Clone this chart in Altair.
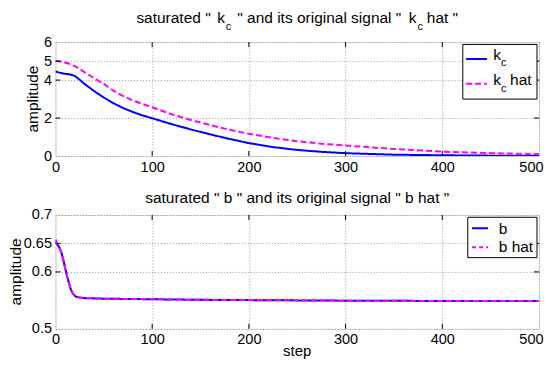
import altair as alt
import pandas as pd

F = "Liberation Sans"

# ---------- data ----------
steps_kc = [0, 5, 10, 15, 20, 25, 30, 40, 50, 60, 70, 80, 90, 100, 120, 140, 160, 180, 200, 225, 250, 275, 300, 350, 400, 450, 500]
kc = [4.45, 4.38, 4.33, 4.3, 4.22, 4.02, 3.8, 3.42, 3.08, 2.78, 2.53, 2.32, 2.14, 1.99, 1.68, 1.4, 1.14, 0.9, 0.68, 0.47, 0.32, 0.22, 0.15, 0.07, 0.04, 0.02, 0.01]
kc_hat = [5.0, 4.98, 4.93, 4.85, 4.73, 4.58, 4.42, 4.1, 3.8, 3.44, 3.16, 2.93, 2.74, 2.57, 2.2, 1.9, 1.63, 1.38, 1.17, 0.95, 0.78, 0.65, 0.55, 0.37, 0.23, 0.15, 0.1]

steps_b = [0, 2, 4, 6, 8, 10, 12, 14, 16, 18, 20, 22, 25, 30, 40, 50, 75, 100, 150, 200, 250, 300, 400, 500]
b = [0.655, 0.648, 0.643, 0.635, 0.622, 0.607, 0.593, 0.58, 0.569, 0.562, 0.558, 0.556, 0.555, 0.554, 0.5535, 0.553, 0.5525, 0.552, 0.551, 0.5505, 0.55, 0.5495, 0.549, 0.549]
b_hat = [0.657, 0.648, 0.643, 0.635, 0.622, 0.607, 0.593, 0.58, 0.569, 0.562, 0.558, 0.556, 0.555, 0.554, 0.5535, 0.553, 0.5525, 0.552, 0.551, 0.5505, 0.55, 0.5495, 0.549, 0.549]

x_ticks = [0, 100, 200, 300, 400, 500]
y_ticks_top = [0, 2, 4, 5, 6]
y_ticks_bot = [0.5, 0.6, 0.65, 0.7]

series_top = ["k_c", "k_c hat"]
series_bot = ["b", "b hat"]

df_top = pd.concat([
    pd.DataFrame({"step": steps_kc, "value": kc, "series": series_top[0]}),
    pd.DataFrame({"step": steps_kc, "value": kc_hat, "series": series_top[1]}),
])
df_bot = pd.concat([
    pd.DataFrame({"step": steps_b, "value": b, "series": series_bot[0]}),
    pd.DataFrame({"step": steps_b, "value": b_hat, "series": series_bot[1]}),
])

W, H = 484, 114
BLUE, MAG = "#0000ff", "#ff00ff"
one = pd.DataFrame({"a": [0]})
FS = 14.5   # tick labels
TS = 15.5   # titles / legend
SS = 11     # subscripts


def panel(df, domain_series, ydom, yticks, yfmt):
    xs = alt.Scale(domain=[0, 500], nice=False, zero=False)
    ys = alt.Scale(domain=ydom, nice=False, zero=False)
    common = dict(grid=True, gridDash=[1, 2], gridColor="#9a9a9a", gridWidth=1, tickSize=0,
                  domain=False, labelFont=F, labelFontSize=FS, labelColor="black",
                  labelOverlap=False, title=None)
    xaxis = alt.Axis(values=x_ticks, labelPadding=4, format="d", labelFlush=True,
                     labelFlushOffset=4, **common)
    yaxis = alt.Axis(values=yticks, labelPadding=4, format=yfmt, labelFlush=False, **common)
    lines = alt.Chart(df).mark_line(strokeWidth=2, clip=True).encode(
        x=alt.X("step:Q", scale=xs, axis=xaxis),
        y=alt.Y("value:Q", scale=ys, axis=yaxis),
        color=alt.Color("series:N", scale=alt.Scale(domain=domain_series, range=[BLUE, MAG]), legend=None),
        strokeDash=alt.StrokeDash("series:N", scale=alt.Scale(domain=domain_series, range=[[1, 0], [6, 3]]), legend=None),
    )
    xt = pd.DataFrame({"step": x_ticks[1:-1]})
    yt = pd.DataFrame({"value": yticks[1:-1]})
    tk = []
    for y0, y1 in [(0, 5), (H, H - 5)]:
        tk.append(alt.Chart(xt).mark_rule(color="black", strokeWidth=1).encode(
            x=alt.X("step:Q", scale=xs, axis=xaxis), y=alt.value(y0), y2=alt.value(y1)))
    for x0, x1 in [(0, 5), (W, W - 5)]:
        tk.append(alt.Chart(yt).mark_rule(color="black", strokeWidth=1).encode(
            y=alt.Y("value:Q", scale=ys, axis=yaxis), x=alt.value(x0), x2=alt.value(x1)))
    return lines, tk


def txt(text, x, y, size=TS, align="left", baseline="alphabetic", angle=0):
    return alt.Chart(one).mark_text(text=text, align=align, baseline=baseline, fontSize=size,
                                    font=F, color="black", angle=angle).encode(
        x=alt.value(x), y=alt.value(y))


def box(x0, x1, y0, y1):
    return alt.Chart(one).mark_rect(fill="white", stroke="black", strokeWidth=1).encode(
        x=alt.value(x0), x2=alt.value(x1), y=alt.value(y0), y2=alt.value(y1))


def sample(x0, x1, y, color, dash):
    return alt.Chart(one).mark_rule(color=color, strokeWidth=2, strokeDash=dash).encode(
        x=alt.value(x0), x2=alt.value(x1), y=alt.value(y))


# invisible anchor that fixes the left edge of the layout bounds
anchor = alt.Chart(one).mark_rule(color="white", strokeWidth=1, opacity=0).encode(
    x=alt.value(-60), y=alt.value(0), y2=alt.value(H))

# ---------- top panel ----------
l1, tk1 = panel(df_top, series_top, [0, 6], y_ticks_top, "d")
top_text = [
    txt('saturated "', 81, -19.5),
    txt("k", 162, -19.5),
    txt("c", 170.5, -12, SS),
    txt('" and its original signal "', 182, -19.5),
    txt("k", 353.7, -19.5),
    txt("c", 362.5, -12, SS),
    txt('hat "', 371.7, -19.5),
    txt("amplitude", -22.5, H / 2, align="center", baseline="middle", angle=270),
]
leg1 = [
    box(407.7, 482, 2.3, 57),
    sample(411, 432, 17, BLUE, [1, 0]),
    sample(411, 432, 41.7, MAG, [6, 3]),
    txt("k", 438.3, 17.7),
    txt("c", 446, 23.5, SS),
    txt("k", 438.3, 42.7),
    txt("c", 446, 49.5, SS),
    txt("hat", 455, 42.7),
]
top = alt.layer(l1, *tk1, *top_text, *leg1, anchor).properties(width=W, height=H)

# ---------- bottom panel ----------
l2, tk2 = panel(df_bot, series_bot, [0.5, 0.7], y_ticks_bot, "~g")
bot_text = [
    txt('saturated " b " and its original signal " b hat "', 242, -11.7, align="center"),
    txt("amplitude", -39.5, H / 2, align="center", baseline="middle", angle=270),
    txt("step", 242, H + 27.5, size=15, align="center"),
]
leg2 = [
    box(412.7, 482, 2.3, 42.7),
    sample(417, 433, 13.3, BLUE, [1, 0]),
    sample(417, 433, 32.3, MAG, [4, 3]),
    txt("b", 443.7, 19),
    txt("b hat", 443.7, 37.5),
]
bot = alt.layer(l2, *tk2, *bot_text, *leg2, anchor).properties(width=W, height=H)

chart = alt.vconcat(top, bot, spacing=59, bounds="flush").properties(
    padding={"left": -13.5, "top": 2, "right": 0, "bottom": 0}
).configure_view(stroke="black", strokeWidth=1.5).configure(background="white")

chart.save("out.html", embed_options={"renderer": "svg", "actions": False})
